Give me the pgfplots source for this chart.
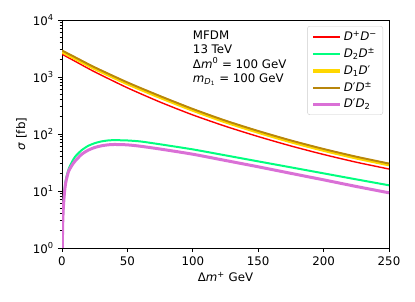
\documentclass[border=0pt]{standalone}
\usepackage{pgfplots}
\pgfplotsset{compat=1.18}
\usepackage{fontspec}
\setmainfont{DejaVu Sans}
\definecolor{mred}{HTML}{FF0000}
\definecolor{sgreen}{HTML}{00FF7F}
\definecolor{mgold}{HTML}{FFD700}
\definecolor{dgold}{HTML}{B8860B}
\definecolor{orchid}{HTML}{DA70D6}
\begin{document}
\fontsize{11.8bp}{14.5bp}\selectfont
\begin{tikzpicture}
\useasboundingbox (-62bp,-54bp) rectangle (353bp,248bp);
\begin{semilogyaxis}[
 scale only axis, width=327bp, height=228bp,
 xmin=0, xmax=250, ymin=1, ymax=10000,
 xtick={0,50,100,150,200,250}, xticklabels={0,50,100,150,200,250},
 ytick={1,10,100,1000,10000},
 yticklabels={10\textsuperscript{0},10\textsuperscript{1},10\textsuperscript{2},10\textsuperscript{3},10\textsuperscript{4}},
 tick align=outside, xtick pos=bottom, ytick pos=left,
 major tick length=4.2bp, minor tick length=2.4bp,
 every tick/.style={black, line width=0.8bp},
 axis line style={line width=0.8bp},
 tick label style={font=\fontsize{11.8bp}{14bp}\selectfont},
 label style={font=\fontsize{11.8bp}{14bp}\selectfont},
 xlabel={Δ\textit{m}\textsuperscript{+} GeV},
 ylabel={\textit{σ} [fb]},
 every axis x label/.style={at={(axis description cs:0.5,-0.126)}, anchor=center},
 every axis y label/.style={at={(axis description cs:-0.124,0.5)}, anchor=center, rotate=90},
 legend style={at={(rel axis cs:1,1)}, anchor=north east, xshift=-6bp, yshift=-6bp,
   draw=black!20, rounded corners=2.5bp, fill=white, fill opacity=0.8, text opacity=1,
   font=\fontsize{11.8bp}{14bp}\selectfont, row sep=2bp, inner xsep=4bp, inner ysep=3bp},
 legend cell align=left,
 legend image code/.code={\draw[#1] (0bp,0bp) -- (27bp,0bp);},
]
\addplot[mred, line width=1.4bp, smooth, tension=0.4] coordinates {
(0,2512)(10,1888)(25,1230)(50,646)(75,363)(100,216)(125,136.5)(150,90.2)(175,61.7)(200,43.7)(225,32.0)(250,24.3)};
\addlegendentry{\textit{D}\textsuperscript{+}\textit{D}\textsuperscript{−}}
\addplot[sgreen, line width=2bp, smooth, tension=0.4] coordinates {
(0.25,1)(0.5,2.5)(1,5.5)(2,11)(3,16)(5,24)(7.5,32)(10,40)(15,52)(20,62)(25,69)(30,74)(35,77)(40,78)(50,77)(60,74)(75,66)(100,53.7)(125,42.2)(150,33.1)(175,26)(200,20.4)(225,16)(250,12.6)};
\addlegendentry{\textit{D}\textsubscript{2}\textit{D}\textsuperscript{±}}
\addplot[mgold, line width=3.4bp, smooth, tension=0.4] coordinates {
(0,2786)(10,2123)(25,1413)(50,767)(75,442)(100,263)(125,164)(150,108)(175,73.6)(200,52.1)(225,38.2)(250,29.0)};
\addlegendentry{\textit{D}\textsubscript{1}\textit{D}′}
\addplot[dgold, line width=1.9bp, smooth, tension=0.4] coordinates {
(0,2917)(10,2223)(25,1479)(50,804)(75,463)(100,275)(125,171.5)(150,113)(175,77.1)(200,54.6)(225,40.0)(250,30.3)};
\addlegendentry{\textit{D}′\textit{D}\textsuperscript{±}}
\addplot[orchid, line width=3bp, smooth, tension=0.4] coordinates {
(0.25,1)(0.5,2.5)(1,5)(2,10)(3,14.5)(5,22)(7.5,28)(10,33.5)(15,44)(20,52)(25,58)(30,62)(35,64.5)(40,65.5)(50,64.5)(60,61)(75,54.5)(100,44.2)(125,34.3)(150,26.6)(175,20.4)(200,15.7)(225,12)(250,9.3)};
\addlegendentry{\textit{D}′\textit{D}\textsubscript{2}}
\node[anchor=north west, align=left, inner sep=0pt, font=\fontsize{11.8bp}{14.5bp}\selectfont] at (rel axis cs:0.4,0.955) {MFDM\\13 TeV\\Δ\textit{m}\textsuperscript{0} = 100 GeV\\\textit{m}\textsubscript{\textit{D}\textsubscript{1}} = 100 GeV};
\end{semilogyaxis}
\end{tikzpicture}
\end{document}
